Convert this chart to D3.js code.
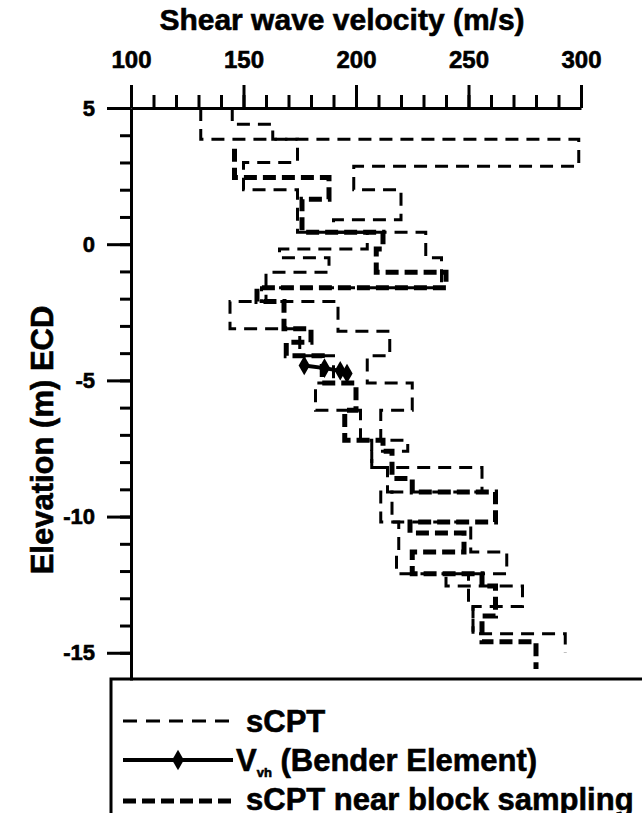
<!DOCTYPE html>
<html>
<head>
<meta charset="utf-8">
<script src="https://cdn.jsdelivr.net/npm/d3@7"></script>
<style>
  body { margin: 0; background: #fff; }
  text { font-family: "Liberation Sans", Arial, sans-serif; font-weight: bold; fill: #000; stroke: #000; stroke-width: 0.6px; }
</style>
</head>
<body>
<div id="chart"></div>
<script>
// tick values
var velTicks = [100, 150, 200, 250, 300];
var elevTicks = [5, 0, -5, -10, -15];

// sCPT profiles: layer boundaries (elevation, m) and interval velocity (m/s) of each layer
var sCPT1Elev = [5, 3.85, 2.86, 2.0, 0.9, 0.44, -0.5, -1.6, -2.1, -3.2, -4.1, -5.1, -6.1, -7.2, -7.6, -8.2, -9.1, -10.2, -11.3, -12.1, -12.55, -13.3, -14.3, -15.0];
var sCPT1Vs = [131, 299, 199, 220, 190, 231, 238, 158, 192, 215, 205, 225, 211, 223, 207, 256, 211, 251, 267, 240, 274, 252, 293];

var sCPT2Elev = [5, 4.4, 3.85, 3.0, 2.0, 0.44, -0.18, -0.5, -1.03, -2.1, -3.1, -4.1, -5.1, -6.1, -7.2, -8.2, -9.1, -10.2, -11.3, -12.1, -13.3, -14.3];
var sCPT2Vs = [145, 163, 174, 150, 174, 205, 166, 188, 160, 144, 175, 190, 182, 202, 207, 214, 216, 219, 218, 250, 252];

// sCPT near block sampling
var blockElev = [3.5, 2.45, 1.65, 0.44, -0.18, -1.03, -1.6, -2.1, -3.1, -3.6, -4.1, -5.1, -6.1, -7.2, -7.6, -8.6, -9.1, -10.2, -10.6, -11.3, -12.1, -12.55, -13.65, -14.6, -15.6];
var blockVs = [146, 188, 176, 212, 209, 240, 156, 168, 180, 169, 185, 200, 195, 212, 216, 225, 262, 224, 248, 225, 256, 262, 256, 280];

// Vvh bender element
var benderVs = [177, 186, 193, 196];
var benderElev = [-4.45, -4.55, -4.65, -4.75];

var margin = { top: 108, left: 131 },
    width = 450,
    height = 572;

var svg = d3.select("#chart")
    .append("svg")
    .attr("width", 642)
    .attr("height", 813);

var g = svg.append("g")
    .attr("transform", "translate(" + margin.left + "," + margin.top + ")");

var x = d3.scaleLinear().domain([100, 300]).range([0, width]);
var y = d3.scaleLinear().domain([5, -16]).range([0, height]);

// step profile -> list of points
function steps(elev, vs) {
    var pts = [];
    vs.forEach(function(v, i) {
        pts.push([v, elev[i]]);
        pts.push([v, elev[i + 1]]);
    });
    return pts;
}

var line = d3.line()
    .x(function(d) { return x(d[0]); })
    .y(function(d) { return y(d[1]); });

// minor ticks
g.append("g")
    .call(d3.axisTop(x).tickValues(d3.range(100, 301, 10)).tickSize(13).tickFormat("").tickSizeOuter(0))
    .call(function(a) { a.selectAll("line").attr("stroke-width", 3); a.select(".domain").remove(); });
g.append("g")
    .call(d3.axisLeft(y).tickValues(d3.range(-15, 6, 1)).tickSize(11).tickFormat("").tickSizeOuter(0))
    .call(function(a) { a.selectAll("line").attr("stroke-width", 3); a.select(".domain").remove(); });

// X axis (top)
var xAxis = g.append("g")
    .call(d3.axisTop(x).tickValues(velTicks).tickSize(23).tickPadding(17).tickSizeOuter(0));
xAxis.select(".domain").attr("stroke-width", 3);
xAxis.selectAll("line").attr("stroke-width", 3);
xAxis.selectAll("text").style("font-size", "24px");

// Y axis, plain hyphen for negatives
var yAxis = g.append("g")
    .call(d3.axisLeft(y).tickValues(elevTicks).tickSize(24).tickPadding(12).tickSizeOuter(0)
        .tickFormat(function(d) { return String(d); }));
yAxis.select(".domain").attr("stroke-width", 3);
yAxis.selectAll("line").attr("stroke-width", 3);
yAxis.selectAll("text").style("font-size", "22px");

// axis titles
svg.append("text")
    .attr("x", 342)
    .attr("y", 30)
    .attr("text-anchor", "middle")
    .style("font-size", "30px")
    .text("Shear wave velocity (m/s)");

svg.append("text")
    .attr("transform", "translate(53,440) rotate(-90)")
    .attr("text-anchor", "middle")
    .style("font-size", "31px")
    .text("Elevation (m) ECD");

// profiles
[[sCPT1Elev, sCPT1Vs], [sCPT2Elev, sCPT2Vs]].forEach(function(p) {
    g.append("path")
        .datum(steps(p[0], p[1]))
        .attr("d", line)
        .attr("fill", "none")
        .attr("stroke", "#000")
        .attr("stroke-width", 3)
        .attr("stroke-dasharray", "13,8");
});

g.append("path")
    .datum(steps(blockElev, blockVs))
    .attr("d", line)
    .attr("fill", "none")
    .attr("stroke", "#000")
    .attr("stroke-width", 5)
    .attr("stroke-dasharray", "13,6");

var bender = benderVs.map(function(v, i) { return [v, benderElev[i]]; });
g.append("path")
    .datum(bender)
    .attr("d", line)
    .attr("fill", "none")
    .attr("stroke", "#000")
    .attr("stroke-width", 4);
g.selectAll(".diamond")
    .data(bender)
    .enter().append("path")
    .attr("class", "diamond")
    .attr("d", d3.symbol().type(d3.symbolDiamond).size(110))
    .attr("transform", function(d) { return "translate(" + x(d[0]) + "," + y(d[1]) + ")"; })
    .attr("fill", "#000");

// legend
svg.append("rect")
    .attr("x", 111)
    .attr("y", 679)
    .attr("width", 600)
    .attr("height", 200)
    .attr("fill", "none")
    .attr("stroke", "#000")
    .attr("stroke-width", 3);

svg.append("line")
    .attr("x1", 123).attr("x2", 231).attr("y1", 721).attr("y2", 721)
    .attr("stroke", "#000").attr("stroke-width", 3).attr("stroke-dasharray", "14,9");
svg.append("text").attr("x", 246).attr("y", 732).style("font-size", "31px").text("sCPT");

svg.append("line")
    .attr("x1", 123).attr("x2", 233).attr("y1", 760).attr("y2", 760)
    .attr("stroke", "#000").attr("stroke-width", 4);
svg.append("path")
    .attr("d", d3.symbol().type(d3.symbolDiamond).size(120))
    .attr("transform", "translate(178,760)");
var vt = svg.append("text").attr("x", 236).attr("y", 771).style("font-size", "31px");
vt.append("tspan").text("V");
vt.append("tspan").attr("dy", 6).style("font-size", "13px").text("vh");
vt.append("tspan").attr("dy", -6).text(" (Bender Element)");

svg.append("line")
    .attr("x1", 123).attr("x2", 231).attr("y1", 801).attr("y2", 801)
    .attr("stroke", "#000").attr("stroke-width", 5).attr("stroke-dasharray", "13,6");
svg.append("text").attr("x", 246).attr("y", 810).style("font-size", "31px").text("sCPT near block sampling");
</script>
</body>
</html>
